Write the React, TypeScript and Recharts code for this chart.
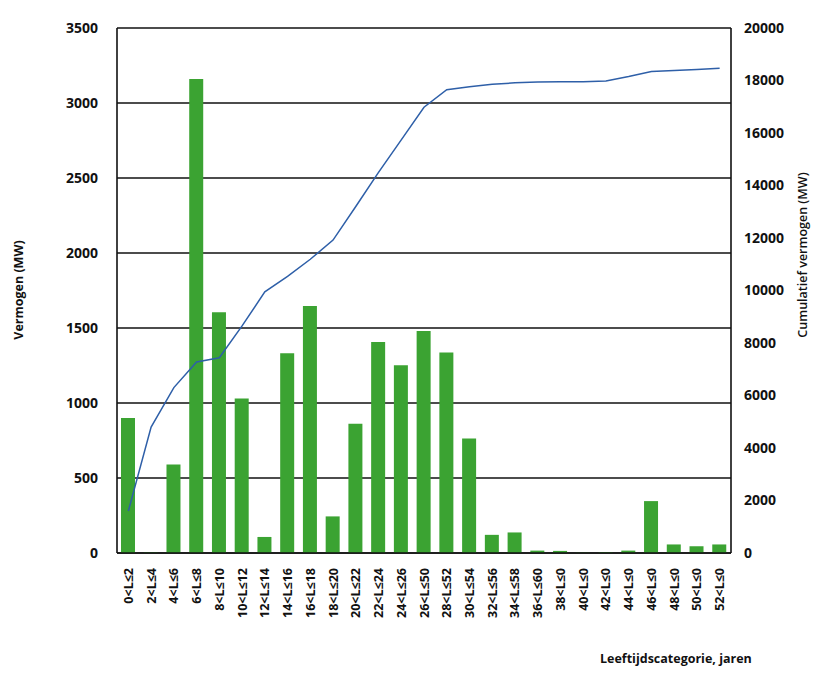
import { ComposedChart, Bar, Line, XAxis, YAxis, CartesianGrid } from 'recharts';

const categories = [
  '0<L≤2', '2<L≤4', '4<L≤6', '6<L≤8', '8<L≤10', '10<L≤12', '12<L≤14', '14<L≤16', '16<L≤18',
  '18<L≤20', '20<L≤22', '22<L≤24', '24<L≤26', '26<L≤50', '28<L≤52', '30<L≤54', '32<L≤56',
  '34<L≤58', '36<L≤60', '38<L≤0', '40<L≤0', '42<L≤0', '44<L≤0', '46<L≤0', '48<L≤0', '50<L≤0', '52<L≤0'
];

const vermogen = [
  900, 5, 590, 3160, 1605, 1030, 107, 1332, 1646, 244, 861, 1407, 1252, 1480,
  1337, 763, 121, 137, 16, 14, 3, 6, 16, 346, 57, 45, 57
];

const cumulatief = [
  1600, 4800, 6300, 7280, 7440, 8650, 9950, 10540, 11190, 11920, 13200, 14500, 15740, 16980,
  17650, 17760, 17860, 17910, 17940, 17950, 17950, 17980, 18150, 18340, 18380, 18420, 18470
];

const leftTicks = [0, 500, 1000, 1500, 2000, 2500, 3000, 3500];
const rightTicks = [0, 2000, 4000, 6000, 8000, 10000, 12000, 14000, 16000, 18000, 20000];

const data = categories.map((cat, i) => ({
  cat,
  vermogen: vermogen[i],
  cumulatief: cumulatief[i]
}));

const font = '"Open Sans", "DejaVu Sans", sans-serif';

const CatTick = (props: any) => {
  const { x, y, payload } = props;
  return (
    <text
      x={0}
      y={0}
      transform={`translate(${x + 4.5},${y + 7}) rotate(-90)`}
      textAnchor="end"
      fontSize={12.5}
      fontWeight={700}
      fontFamily={font}
      fill="#111"
    >
      {payload.value}
    </text>
  );
};

export default function App() {
  return (
    <div style={{ position: 'absolute', left: 0, top: 0, width: 835, height: 683, background: '#fff' }}>
      <ComposedChart
        width={835}
        height={683}
        data={data}
        margin={{ top: 28, right: 0, bottom: 0, left: 0 }}
      >
        <CartesianGrid yAxisId="left" vertical={false} stroke="#111" strokeWidth={1.6} />
        <XAxis
          dataKey="cat"
          interval={0}
          height={130}
          tick={<CatTick />}
          tickLine={false}
          axisLine={{ stroke: '#111', strokeWidth: 1.6 }}
        />
        <YAxis
          yAxisId="left"
          width={117}
          domain={[0, 3500]}
          ticks={leftTicks}
          tickSize={0}
          tickMargin={19}
          tickLine={false}
          axisLine={{ stroke: '#111', strokeWidth: 1.6 }}
          tick={{ fontSize: 14, fontWeight: 700, fontFamily: font, fill: '#111' }}
        />
        <YAxis
          yAxisId="right"
          orientation="right"
          width={104}
          domain={[0, 20000]}
          ticks={rightTicks}
          tickSize={0}
          tickMargin={13}
          tickLine={false}
          axisLine={{ stroke: '#111', strokeWidth: 1.6 }}
          tick={{ fontSize: 14, fontWeight: 700, fontFamily: font, fill: '#111', textAnchor: 'start' }}
        />
        <Bar yAxisId="left" dataKey="vermogen" fill="#3BA332" barSize={14} isAnimationActive={false} />
        <Line
          yAxisId="right"
          dataKey="cumulatief"
          type="linear"
          stroke="#2E5FA8"
          strokeWidth={1.5}
          dot={false}
          isAnimationActive={false}
        />
      </ComposedChart>
      <div
        style={{
          position: 'absolute',
          left: 18,
          top: 290,
          transform: 'translate(-50%, -50%) rotate(-90deg)',
          whiteSpace: 'nowrap',
          fontFamily: font,
          fontSize: 12.5,
          fontWeight: 700,
          color: '#111'
        }}
      >
        Vermogen (MW)
      </div>
      <div
        style={{
          position: 'absolute',
          left: 802,
          top: 255,
          transform: 'translate(-50%, -50%) rotate(-90deg)',
          whiteSpace: 'nowrap',
          fontFamily: font,
          fontSize: 12.5,
          fontWeight: 600,
          color: '#111'
        }}
      >
        Cumulatief vermogen (MW)
      </div>
      <div
        style={{
          position: 'absolute',
          left: 600,
          top: 650,
          whiteSpace: 'nowrap',
          fontFamily: font,
          fontSize: 12.5,
          fontWeight: 700,
          color: '#111'
        }}
      >
        Leeftijdscategorie, jaren
      </div>
    </div>
  );
}
